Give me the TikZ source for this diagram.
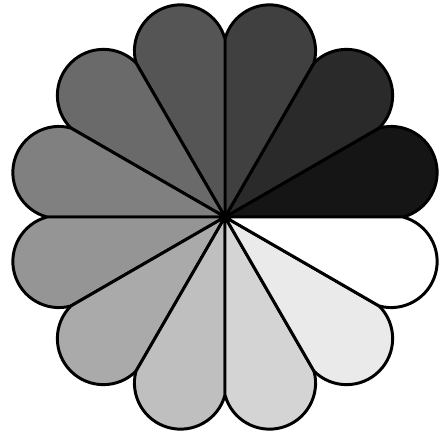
\documentclass[tikz,border=0pt]{standalone}
\usepackage{tikz}
\usetikzlibrary{calc}

\tikzset{petal/.style={draw=black,line width=2.1pt,line join=round}}

\begin{document}
\begin{tikzpicture}[x=0.25mm,y=0.25mm]
        \useasboundingbox (-225,-219) rectangle (216,217);
        % petal size: straight edge and end cap
        \def\plen{178}
        \pgfmathsetmacro{\prad}{\plen*sin(15)}
        % twelve petals, dark to light
        \foreach \k in {0,...,11}{
          \pgfmathsetmacro{\shade}{100*(\k+1)/12}
          \pgfmathsetmacro{\ang}{30*\k}
          \filldraw[petal,fill=white!\shade!black] (0,0) -- (\ang:\plen)
            arc[start angle=\ang-75,end angle=\ang+105,radius=\prad] -- cycle;
        }
      \end{tikzpicture}
\end{document}
